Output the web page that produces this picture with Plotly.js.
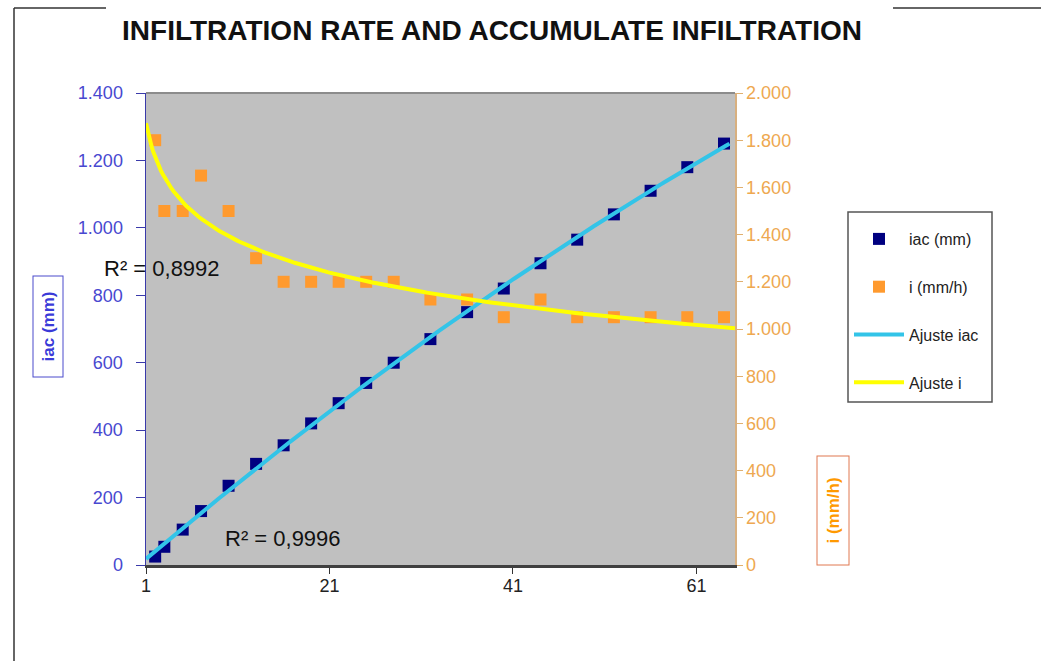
<!DOCTYPE html>
<html>
<head>
<meta charset="utf-8">
<script src="https://cdn.plot.ly/plotly-3.0.1.min.js"></script>
<style>html,body{margin:0;padding:0;background:#fff;}#chart{width:1041px;height:661px;}</style>
</head>
<body>
<div id="chart"></div>
<script>
// ---- data ----
var timeMin = [2, 3, 5, 7, 10, 13, 16, 19, 22, 25, 28, 32, 36, 40, 44, 48, 52, 56, 60, 64];
var iacMm   = [25, 54, 105, 160, 235, 300, 355, 420, 480, 540, 600, 670, 750, 820, 895, 965, 1040, 1110, 1180, 1250];
var iMmH    = [1800, 1500, 1500, 1650, 1500, 1300, 1200, 1200, 1200, 1200, 1200, 1125, 1125, 1050, 1125, 1050, 1050, 1050, 1050, 1050];
var xTicks  = [1, 21, 41, 61];
var seriesNames = ['iac (mm)', 'i (mm/h)', 'Ajuste iac', 'Ajuste i'];
var r2Labels = ['R² = 0,8992', 'R² = 0,9996'];
var titleText = 'INFILTRATION RATE AND ACCUMULATE INFILTRATION';

// ---- least-squares trendlines computed from the data ----
function det3(m) {
  return m[0][0]*(m[1][1]*m[2][2]-m[1][2]*m[2][1]) - m[0][1]*(m[1][0]*m[2][2]-m[1][2]*m[2][0]) + m[0][2]*(m[1][0]*m[2][1]-m[1][1]*m[2][0]);
}
function polyFit2(xs, ys) {
  var S = [0,0,0,0,0], T = [0,0,0];
  for (var k = 0; k < xs.length; k++) {
    var p = 1;
    for (var e = 0; e <= 4; e++) { S[e] += p; if (e <= 2) T[e] += p*ys[k]; p *= xs[k]; }
  }
  var M = [[S[0],S[1],S[2]],[S[1],S[2],S[3]],[S[2],S[3],S[4]]];
  var D = det3(M), c = [];
  for (var j = 0; j < 3; j++) {
    var Mj = M.map(function(row, r){ var rr = row.slice(); rr[j] = T[r]; return rr; });
    c.push(det3(Mj)/D);
  }
  return c; // c0 + c1 x + c2 x^2
}
function logFit(xs, ys) {
  var lx = xs.map(Math.log), n = xs.length, mx = 0, my = 0, sxy = 0, sxx = 0;
  for (var k = 0; k < n; k++) { mx += lx[k]; my += ys[k]; }
  mx /= n; my /= n;
  for (var k = 0; k < n; k++) { sxy += (lx[k]-mx)*(ys[k]-my); sxx += (lx[k]-mx)*(lx[k]-mx); }
  var b = sxy / sxx; return {a: my - b*mx, b: b};
}
var cIac = polyFit2(timeMin, iacMm);
var fitI = logFit(timeMin, iMmH);
var xs1 = [], ys1 = [], xs2 = [], ys2 = [];
for (var t = 1; t <= 64.6001; t += 0.2) { xs1.push(t); ys1.push(cIac[0] + cIac[1]*t + cIac[2]*t*t); }
for (var t = 1; t <= 65.2001; t += 0.2) { xs2.push(t); ys2.push(fitI.a + fitI.b*Math.log(t)); }

// ---- pixel helpers for decorations ----
var L = 146, R = 735, T = 93, B = 565;
function px(x) { return (x - L) / (R - L); }
function py(y) { return (B - y) / (B - T); }

var FONT = 'Liberation Sans, Arial, sans-serif';

var traces = [
  {x: timeMin, y: iacMm, name: seriesNames[0], type: 'scatter', mode: 'markers', yaxis: 'y',
   marker: {symbol: 'square', size: 12, color: '#000080'}, legendgroup: 'a', legendrank: 1},
  {x: timeMin, y: iMmH, name: seriesNames[1], type: 'scatter', mode: 'markers', yaxis: 'y2',
   marker: {symbol: 'square', size: 12, color: '#ff9a2e'}, legendgroup: 'b', legendrank: 2},
  {x: xs1, y: ys1, name: seriesNames[2], type: 'scatter', mode: 'lines', yaxis: 'y',
   line: {color: '#33c4e8', width: 4}, legendgroup: 'c', legendrank: 3},
  {x: xs2, y: ys2, name: seriesNames[3], type: 'scatter', mode: 'lines', yaxis: 'y2',
   line: {color: '#ffff00', width: 4}, legendgroup: 'd', legendrank: 4}
];

var layout = {
  width: 1041, height: 661,
  margin: {l: L, r: 1041 - R, t: T, b: 661 - B, pad: 0},
  paper_bgcolor: '#ffffff', plot_bgcolor: '#c0c0c0',
  separators: ',.',
  font: {family: FONT, size: 18, color: '#222'},
  title: {text: titleText, x: 492/1041, xanchor: 'center', y: 1 - 30/661, yanchor: 'middle',
          font: {family: FONT, size: 28, color: '#111', weight: 'bold'}},
  xaxis: {range: [1, 65.2], tickvals: xTicks, ticks: 'outside', ticklen: 6, tickcolor: '#333',
          showline: true, linecolor: '#404040', linewidth: 2.5, showgrid: false, zeroline: false,
          ticklabelstandoff: -3,
          tickfont: {family: FONT, size: 18, color: '#222'}},
  yaxis: {range: [0, 1400], dtick: 200, tickformat: ',.0f', ticks: 'outside', ticklen: 9,
          tickcolor: '#3a3aaa', showline: true, linecolor: '#3a3aaa', linewidth: 1.5,
          ticklabelstandoff: 9,
          showgrid: false, zeroline: false, tickfont: {family: FONT, size: 18, color: '#4848d0'}},
  yaxis2: {range: [0, 2000], dtick: 200, tickformat: ',.0f', overlaying: 'y', side: 'right',
           ticks: 'outside', ticklen: 6, tickcolor: '#e0b070', showline: true, linecolor: '#d8b080',
           linewidth: 1.5, showgrid: false, zeroline: false,
           tickfont: {family: FONT, size: 18, color: '#eea850'}},
  showlegend: true,
  legend: {x: px(849), y: py(222), xanchor: 'left', yanchor: 'top', bgcolor: 'rgba(0,0,0,0)',
           borderwidth: 0, traceorder: 'grouped', tracegroupgap: 24,
           itemwidth: 50, font: {family: FONT, size: 16, color: '#222'}},
  shapes: [
    {type: 'line', xref: 'paper', yref: 'paper', x0: 0, x1: 1, y0: 1, y1: 1, line: {color: '#8c8c8c', width: 2}},
    {type: 'line', xref: 'paper', yref: 'paper', x0: px(14), x1: px(14), y0: py(8), y1: py(670), line: {color: '#333', width: 1.5}},
    {type: 'line', xref: 'paper', yref: 'paper', x0: px(14), x1: px(106), y0: py(8), y1: py(8), line: {color: '#333', width: 1.5}},
    {type: 'line', xref: 'paper', yref: 'paper', x0: px(893), x1: px(1045), y0: py(8), y1: py(8), line: {color: '#333', width: 1.5}},
    {type: 'rect', xref: 'paper', yref: 'paper', x0: px(848), x1: px(992), y0: py(212), y1: py(402),
     fillcolor: '#ffffff', line: {color: '#555', width: 1.5}, layer: 'below'}
  ],
  annotations: [
    {text: r2Labels[0], xref: 'paper', yref: 'paper', x: px(162), y: py(268), xanchor: 'center', yanchor: 'middle',
     showarrow: false, font: {family: FONT, size: 22, color: '#111'}},
    {text: r2Labels[1], xref: 'paper', yref: 'paper', x: px(283), y: py(538), xanchor: 'center', yanchor: 'middle',
     showarrow: false, font: {family: FONT, size: 22, color: '#111'}},
    {text: '<b>iac (mm)</b>', xref: 'paper', yref: 'paper', x: px(47.5), y: py(327), xanchor: 'center', yanchor: 'middle',
     showarrow: false, textangle: -90, width: 92, height: 21, borderpad: 4,
     font: {family: FONT, size: 17, color: '#3a3ad8'}, bordercolor: '#4a4acc', borderwidth: 1, bgcolor: '#ffffff'},
    {text: '<b>i (mm/h)</b>', xref: 'paper', yref: 'paper', x: px(832.5), y: py(511), xanchor: 'center', yanchor: 'middle',
     showarrow: false, textangle: -90, width: 100, height: 23, borderpad: 4,
     font: {family: FONT, size: 17, color: '#ff9900'}, bordercolor: '#e07850', borderwidth: 1, bgcolor: '#ffffff'}
  ]
};

Plotly.newPlot('chart', traces, layout, {displayModeBar: false, staticPlot: true});
</script>
</body>
</html>
